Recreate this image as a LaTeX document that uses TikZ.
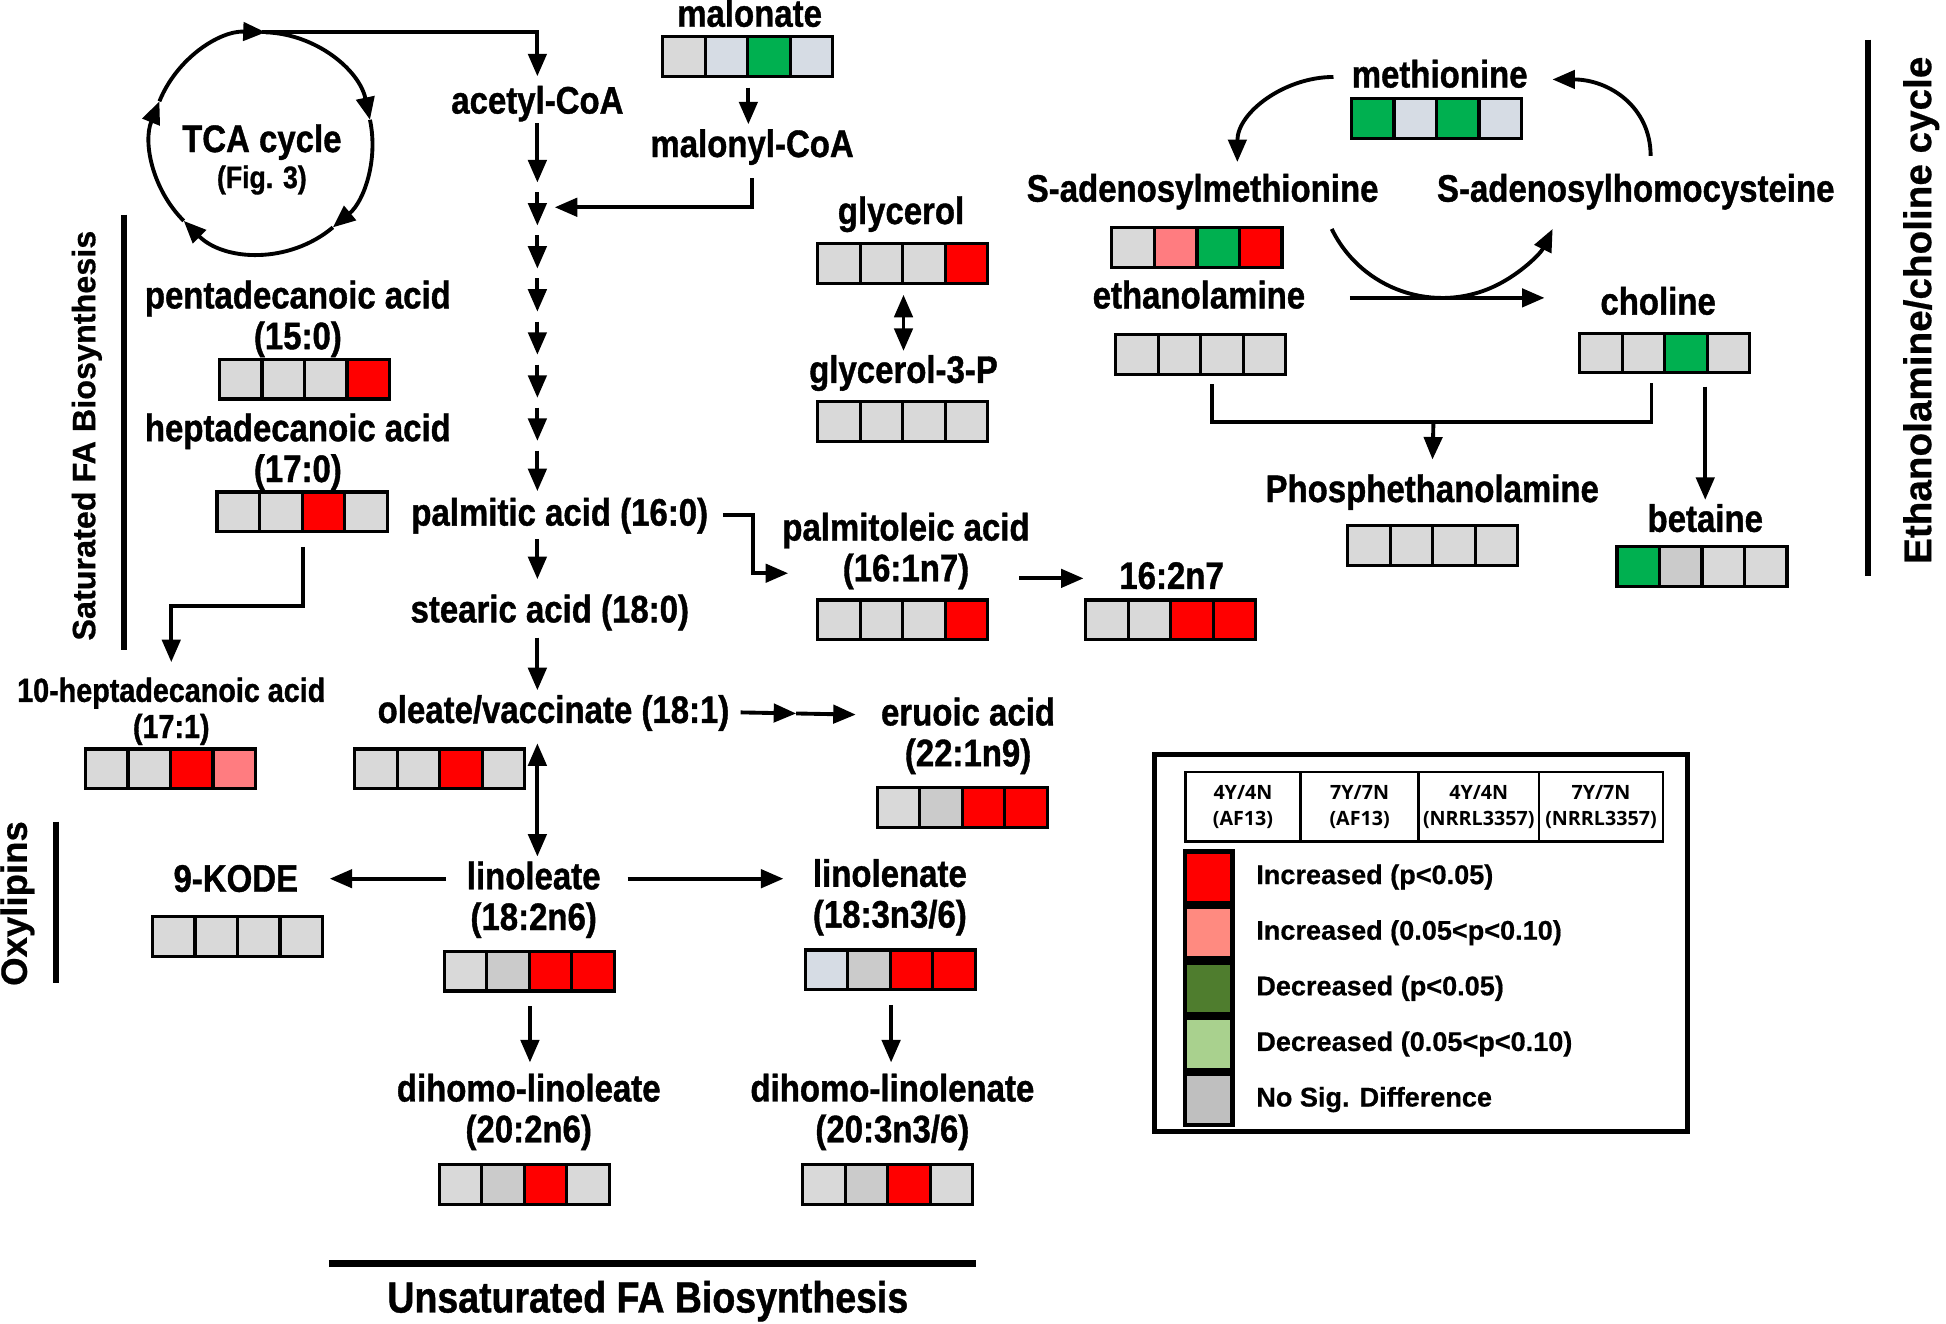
\documentclass[tikz,border=0pt]{standalone}
\usepackage{fontspec}
\setmainfont{Liberation Sans}[FakeStretch=0.86, BoldFeatures={FakeBold=1}]
\newfontfamily\widefont{Liberation Sans}[BoldFeatures={FakeBold=0.6}]
\newfontfamily\headfont{Open Sans}
\usetikzlibrary{positioning,calc,arrows.meta}

\definecolor{cg}{HTML}{D9D9D9}
\definecolor{cd}{HTML}{CBCBCB}
\definecolor{cb}{HTML}{D6DCE4}
\definecolor{cn}{HTML}{00B050}
\definecolor{cr}{HTML}{FF0000}
\definecolor{cp}{HTML}{FF7C80}
\definecolor{ldg}{HTML}{4F7D2E}
\definecolor{llg}{HTML}{A9D18E}
\definecolor{lgy}{HTML}{BFBFBF}
\definecolor{lpk}{HTML}{FF8A80}

\tikzset{
  lbl/.style={font=\bfseries\fontsize{10.9}{11.2}\selectfont, text height=8.4pt, text depth=2.4pt, inner xsep=3pt, inner ysep=0.2pt},
  slbl/.style={lbl, font=\bfseries\fontsize{9.5}{10}\selectfont, text height=7.4pt, text depth=2.1pt},
  arr/.style={line width=1.1pt, -{Triangle[length=6.4pt,width=5.2pt]}},
  dbl/.style={line width=1.1pt, {Triangle[length=6.4pt,width=5.2pt]}-{Triangle[length=6.4pt,width=5.2pt]}},
  wire/.style={line width=1.1pt},
  strip/.style={inner sep=0pt, minimum width=1.7002cm, minimum height=0.3971cm},
  cellbox/.style={line width=0.9pt, draw=black},
  bar/.style={line width=1.9pt},
  hd/.style={draw, line width=0.8pt, inner sep=0pt, minimum height=0.695cm, align=center, font=\headfont\bfseries\fontsize{5.6}{7.4}\selectfont},
  swatch/.style={draw, line width=1.2pt, inner sep=0pt, minimum width=0.4716cm, minimum height=0.5138cm},
  keytext/.style={font=\widefont\bfseries\fontsize{7.7}{9}\selectfont, inner xsep=2pt},
}

\newcommand{\hmap}[6]{%
  \node (#1) [strip] at #2 {};
  \foreach \col [count=\i from 0] in {#3,#4,#5,#6}
    \draw [cellbox, fill=\col] ($(#1.north west)+(34.25*\i,0)$) rectangle +(34.25,32);
}

\begin{document}
\begin{tikzpicture}[x=0.01241cm, y=-0.01241cm]
    \useasboundingbox (0,0) rectangle (1568,1066);

    \coordinate (tcac) at (211,115);
    \foreach \a/\b in {158/88, 88/12, 12/-50, -50/-135, -135/-202}
        \draw[arr] (tcac) ++(\a:1.1045cm) arc[start angle=\a, end angle=\b, radius=1.1045cm];
    \coordinate (tcatop) at ($(tcac)+(90:1.1045cm)$);
    \node (tca) [lbl] at (211,114) {TCA cycle};
    \node (tcafig) [lbl, font=\bfseries\fontsize{8.8}{9}\selectfont] at (211,143) {(Fig. 3)};

    \node (acetyl) [lbl] at (433,83) {acetyl-CoA};
    \node (malonate) [lbl] at (604,13) {malonate};
    \hmap{smal}{(603,46)}{cg}{cb}{cn}{cb}
    \node (malonyl) [lbl] at (606,118) {malonyl-CoA};

    \node (pentadec) [lbl] at (240,240) {pentadecanoic acid};
    \node (pentadecF) [lbl, below=0pt of pentadec] {(15:0)};
    \hmap{spenta}{(246,306)}{cg}{cg}{cg}{cr}
    \node (heptadec) [lbl] at (240,347) {heptadecanoic acid};
    \node (heptadecF) [lbl, below=0pt of heptadec] {(17:0)};
    \hmap{shepta}{(244,413)}{cg}{cg}{cr}{cg}
    \node (hept10) [slbl] at (138,558) {10-heptadecanoic acid};
    \node (hept10F) [slbl, below=0pt of hept10] {(17:1)};
    \hmap{shept10}{(138,620)}{cg}{cg}{cr}{cp}

    \node (palmitic) [lbl] at (451,415) {palmitic acid (16:0)};
    \node (stearic) [lbl] at (443,493) {stearic acid (18:0)};
    \node (oleate) [lbl] at (446,574) {oleate/vaccinate (18:1)};
    \hmap{soleate}{(355,620)}{cg}{cg}{cr}{cg}

    \node (glycerol) [lbl] at (726,172) {glycerol};
    \hmap{sglycerol}{(728,213)}{cg}{cg}{cg}{cr}
    \node (g3p) [lbl] at (728,300) {glycerol-3-P};
    \hmap{sg3p}{(728,340)}{cg}{cg}{cg}{cg}

    \node (palmitoleic) [lbl] at (730,427) {palmitoleic acid};
    \node (palmitoleicF) [lbl, below=0pt of palmitoleic] {(16:1n7)};
    \hmap{spalmitoleic}{(728,500)}{cg}{cg}{cg}{cr}
    \node (c162) [lbl] at (944,466) {16:2n7};
    \hmap{sc162}{(944,500)}{cg}{cg}{cr}{cr}
    \node (eruoic) [lbl] at (780,576) {eruoic acid};
    \node (eruoicF) [lbl, below=0pt of eruoic] {(22:1n9)};
    \hmap{seruoic}{(776,651)}{cg}{cd}{cr}{cr}

    \node (kode) [lbl] at (190,710) {9-KODE};
    \hmap{skode}{(192,755)}{cg}{cg}{cg}{cg}
    \node (linoleate) [lbl] at (430,708) {linoleate};
    \node (linoleateF) [lbl, below=0pt of linoleate] {(18:2n6)};
    \hmap{slinoleate}{(427,783)}{cg}{cd}{cr}{cr}
    \node (linolenate) [lbl] at (717,706) {linolenate};
    \node (linolenateF) [lbl, below=0pt of linolenate] {(18:3n3/6)};
    \hmap{slinolenate}{(718,782)}{cb}{cd}{cr}{cr}
    \node (dilinoleate) [lbl] at (426,879) {dihomo-linoleate};
    \node (dilinoleateF) [lbl, below=0pt of dilinoleate] {(20:2n6)};
    \hmap{sdilinoleate}{(423,955)}{cg}{cd}{cr}{cg}
    \node (dilinolenate) [lbl] at (719,879) {dihomo-linolenate};
    \node (dilinolenateF) [lbl, below=0pt of dilinolenate] {(20:3n3/6)};
    \hmap{sdilinolenate}{(716,955)}{cg}{cd}{cr}{cg}

    \node (methionine) [lbl] at (1160,62) {methionine};
    \hmap{smet}{(1158,96)}{cn}{cb}{cn}{cb}
    \node (sam) [lbl] at (969,154) {S-adenosylmethionine};
    \hmap{ssam}{(965,200)}{cg}{cp}{cn}{cr}
    \node (sah) [lbl] at (1318,154) {S-adenosylhomocysteine};
    \node (ethanolamine) [lbl] at (966,240) {ethanolamine};
    \hmap{seth}{(968,286)}{cg}{cg}{cg}{cg}
    \node (choline) [lbl] at (1336,245) {choline};
    \hmap{scho}{(1342,285)}{cg}{cg}{cn}{cg}
    \node (phospho) [lbl] at (1154,396) {Phosphethanolamine};
    \hmap{sphos}{(1155,440)}{cg}{cg}{cg}{cg}
    \node (betaine) [lbl] at (1374,420) {betaine};
    \hmap{sbet}{(1372,457)}{cn}{cd}{cg}{cg}

    \foreach \i in {1,...,7}
        \coordinate (p\i) at (433,116.3+34.7*\i);
    \coordinate (mjoin) at (447,167);
    \coordinate (phjoin) at (1155,340);
    \coordinate (samout) at ($(sam.south)+(104,14)$);

    \draw[arr, shorten >=1.8pt] (tcatop) -| (acetyl.north);
    \draw[arr, shorten >=1.4pt] (acetyl.south) -- (p1);
    \foreach \i [remember=\i as \j (initially 1)] in {2,...,7}
        \draw[arr, shorten <=1.4pt, shorten >=1.4pt] (p\j) -- (p\i);
    \draw[arr, shorten <=1.4pt, shorten >=1pt] (p7) -- (palmitic.north -| p7);
    \draw[arr, shorten <=2.8pt, shorten >=0.5pt] (smal.south) -- (smal.south |- malonyl.north);
    \draw[arr, shorten <=3.2pt] (malonyl.south) |- (mjoin);
    \draw[arr, shorten <=1pt] (palmitic.east) -- ++(27,0) |- ($(palmitoleicF.west)+(-35,2)$);
    \draw[arr, shorten <=1pt, shorten >=3.5pt] (palmitic.south -| p7) -- (stearic.north -| p7);
    \draw[arr, shorten <=1.5pt, shorten >=0.5pt] (stearic.south -| p7) -- (oleate.north -| p7);
    \draw[dbl, shorten <=3pt, shorten >=0.5pt] (oleate.south -| p7) -- (linoleate.north -| p7);
    \draw[arr] (oleate.east) -- ($(oleate.east)!0.43!(eruoic.west)$) coordinate (ejoin);
    \draw[arr, shorten >=4pt] (ejoin) -- (eruoic.west);
    \draw[arr, shorten <=3.9pt, shorten >=3.5pt] (shepta.south) -- ++(0,59) -| (hept10.north);
    \draw[dbl, shorten <=2.8pt, shorten >=0.3pt] (sglycerol.south) -- (sglycerol.south |- g3p.north);
    \draw[arr, shorten <=11pt, shorten >=7pt] (palmitoleicF.east |- c162) -- (c162.west);
    \draw[arr, shorten <=2.7pt, shorten >=5.8pt] (linoleate.west) -- (linoleate.west -| kode.east);
    \draw[arr, shorten <=4.5pt, shorten >=5.2pt] (linoleate.east) -- (linoleate.east -| linolenate.west);
    \draw[arr, shorten <=3.9pt, shorten >=2.3pt] (slinoleate.south) -- (slinoleate.south |- dilinoleate.north);
    \draw[arr, shorten <=3.9pt, shorten >=2.3pt] (slinolenate.south) -- (slinolenate.south |- dilinolenate.north);

    \draw[arr, shorten <=2pt] (methionine.west) .. controls +(-45,0) and +(0,-40) .. ($(sam.north)+(28,-7)$);
    \draw[arr] ($(sah.north)+(12,-12)$) .. controls +(0,-40) and +(45,0) .. ($(methionine.east)+(11,2)$);
    \draw[arr] (samout) arc[start angle=206, end angle=334, radius=1.2286cm];
    \draw[arr, shorten <=9.5pt, shorten >=12.7pt] (ethanolamine.east) -- (ethanolamine.east -| choline.west);
    \draw[wire, shorten <=2.5pt, shorten >=2.5pt] ([xshift=3pt]seth.south) |- (phjoin) -| ([xshift=-4pt]scho.south);
    \draw[arr, shorten >=3.3pt] (phjoin) -- (phospho.north);
    \draw[arr, shorten <=3.5pt, shorten >=0.3pt] (scho.south -| betaine) -- (betaine.north);

    \draw[bar] (100,173) -- (100,524);
    \draw[bar] (45,662) -- (45,792);
    \draw[bar] (1505,32) -- (1505,464);
    \draw[bar] (265,1018) -- (786,1018);
    \node (satfa) [rotate=90, font=\widefont\bfseries\fontsize{9.2}{10}\selectfont] at (70,351) {Saturated FA Biosynthesis};
    \node (oxy) [rotate=90, font=\widefont\bfseries\fontsize{10.4}{12}\selectfont] at (14,728) {Oxylipins};
    \node (etcycle) [rotate=90, font=\widefont\bfseries\fontsize{11}{12}\selectfont] at (1548,250) {Ethanolamine/choline cycle};
    \node (unsatfa) [lbl, font=\bfseries\fontsize{12.4}{13}\selectfont] at (522,1049) {Unsaturated FA Biosynthesis};

    \draw[line width=1.4pt] (930,608) rectangle (1360,912);
    \node (h1) [hd, minimum width=1.154cm] at (1001.5,650) {4Y/4N\\(AF13)};
    \node (h2) [hd, minimum width=1.179cm] at (1095.5,650) {7Y/7N\\(AF13)};
    \node (h3) [hd, minimum width=1.204cm] at (1191.5,650) {4Y/4N\\(NRRL3357)};
    \node (h4) [hd, minimum width=1.241cm] at (1290,650) {7Y/7N\\(NRRL3357)};
    \node (sw1) [swatch, fill=cr] at (974,706.7) {};
    \node (sw2) [swatch, fill=lpk, below=0pt of sw1] {};
    \node (sw3) [swatch, fill=ldg, below=0pt of sw2] {};
    \node (sw4) [swatch, fill=llg, below=0pt of sw3] {};
    \node (sw5) [swatch, fill=lgy, below=0pt of sw4] {};
    \node (k1) [keytext, right=4pt of sw1] {Increased (p<0.05)};
    \node (k2) [keytext, right=4pt of sw2] {Increased (0.05<p<0.10)};
    \node (k3) [keytext, right=4pt of sw3] {Decreased (p<0.05)};
    \node (k4) [keytext, right=4pt of sw4] {Decreased (0.05<p<0.10)};
    \node (k5) [keytext, right=4pt of sw5] {No Sig. Difference};
\end{tikzpicture}
\end{document}
